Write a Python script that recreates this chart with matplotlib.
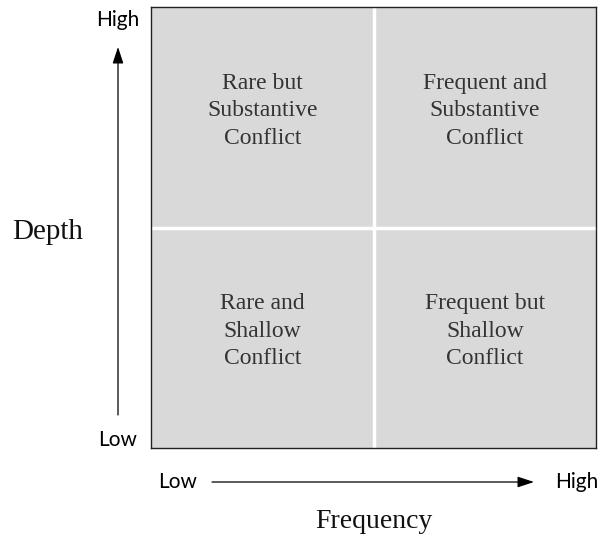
import numpy as np
import matplotlib.pyplot as plt

# quadrant layout: column (frequency), row (depth), label
cols = [0, 1, 0, 1]
rows = [1, 1, 0, 0]
labels = ['Rare but\nSubstantive\nConflict',
          'Frequent and\nSubstantive\nConflict',
          'Rare and\nShallow\nConflict',
          'Frequent but\nShallow\nConflict']
axis_ends = ['Low', 'High']

W, H = 600, 538
fig = plt.figure(figsize=(W / 100, H / 100), dpi=100)

# main box in pixel coords
left, right, top, bottom = 151, 596, 7, 448
ax = fig.add_axes([left / W, 1 - bottom / H, (right - left) / W, (bottom - top) / H])
ax.bar(cols, [1] * 4, width=1, bottom=rows, align='edge', color='#d9d9d9',
       edgecolor='none')
ax.axvline(1, color='white', lw=2.5)
ax.axhline(1, color='white', lw=2.5)
for c, r, lab in zip(cols, rows, labels):
    ax.text(c + 0.5, r + 0.53, lab, ha='center', va='center', fontsize=17,
            family='Liberation Serif', color='#333333', linespacing=1.4)
ax.set_xlim(0, 2)
ax.set_ylim(0, 2)
ax.set_xticks([])
ax.set_yticks([])
for spine in ax.spines.values():
    spine.set_edgecolor('#222222')
    spine.set_linewidth(1.0)


def px(x, y):
    return x / W, 1 - y / H


sans = 'Lato'
arrow = dict(arrowstyle='-|>,head_length=1.0,head_width=0.33', lw=0.9,
             color='black', mutation_scale=10, shrinkA=0, shrinkB=0)

# vertical axis annotations
fig.text(*px(118, 20), axis_ends[1], ha='center', va='center', fontsize=15, family=sans)
fig.text(*px(118, 440), axis_ends[0], ha='center', va='center', fontsize=15, family=sans)
fig.text(*px(48, 232), 'Depth', ha='center', va='center', fontsize=21,
         family='Liberation Serif', color='#111111')
fig.add_artist(plt.Annotation('', xy=px(118, 47), xytext=px(118, 415),
                              xycoords='figure fraction', textcoords='figure fraction',
                              arrowprops=arrow))

# horizontal axis annotations
fig.text(*px(178, 482), axis_ends[0], ha='center', va='center', fontsize=15, family=sans)
fig.text(*px(577, 482), axis_ends[1], ha='center', va='center', fontsize=15, family=sans)
fig.text(*px(374, 522), 'Frequency', ha='center', va='center', fontsize=20,
         family='Liberation Serif', color='#111111')
fig.add_artist(plt.Annotation('', xy=px(534, 482), xytext=px(212, 482),
                              xycoords='figure fraction', textcoords='figure fraction',
                              arrowprops=arrow))

fig.savefig('out.png', dpi=100)
